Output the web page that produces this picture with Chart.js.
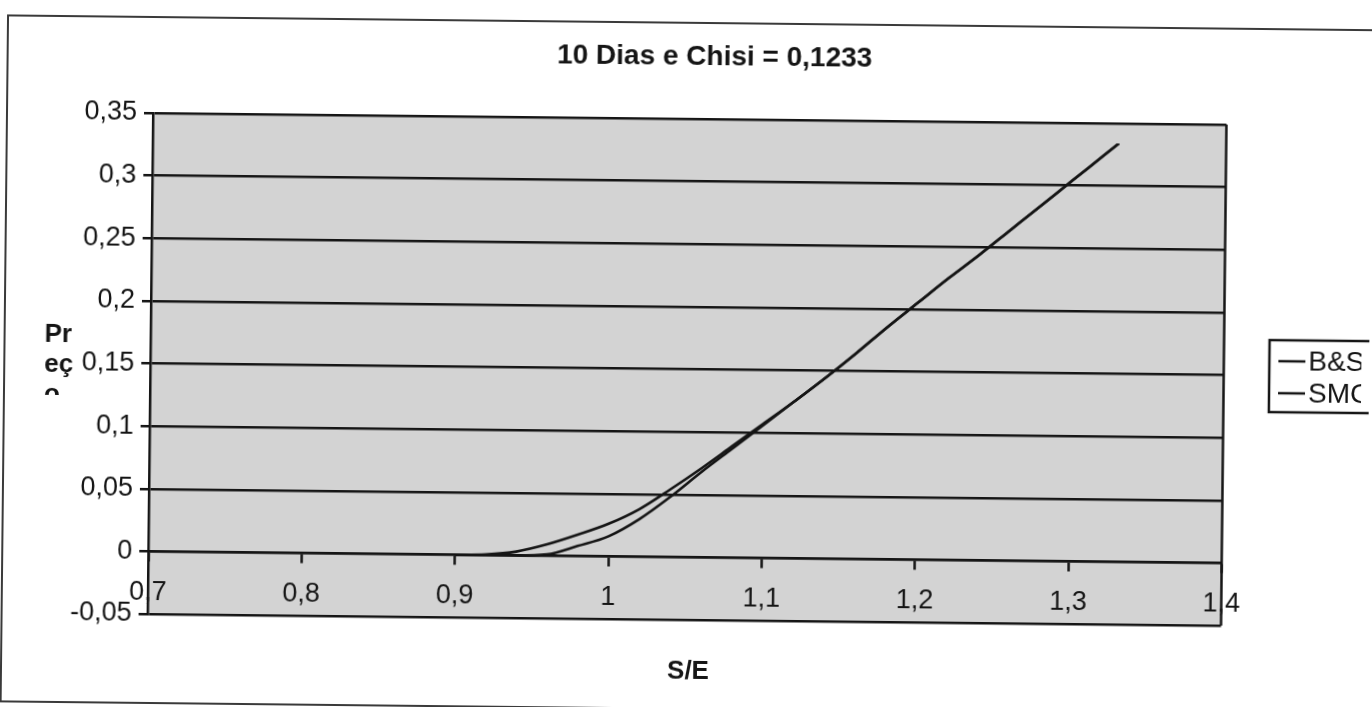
<!DOCTYPE html>
<html>
<head>
<meta charset="utf-8">
<script src="https://cdn.jsdelivr.net/npm/chart.js@4.4.1/dist/chart.umd.min.js"></script>
<style>
  html, body { margin: 0; padding: 0; background: #fff; overflow: hidden; }
  /* the scanned page is slightly turned clockwise */
  #myChart { display: block; transform: rotate(0.62deg); transform-origin: 153px 113px; }
</style>
</head>
<body>
<canvas id="myChart" width="1372" height="707"></canvas>
<script>
const ratio = [0.90, 0.92, 0.94, 0.96, 0.98, 1.00, 1.02, 1.04, 1.06, 1.08, 1.10, 1.12,
  1.14, 1.16, 1.18, 1.20, 1.22, 1.24, 1.26, 1.28, 1.30, 1.32, 1.33];
const bsPrice = [0, 0.0005, 0.003, 0.009, 0.017, 0.026, 0.038, 0.054, 0.071, 0.089, 0.107, 0.125,
  0.144, 0.164, 0.185, 0.205, 0.225, 0.244, 0.264, 0.284, 0.304, 0.324, 0.334];
const smcPrice = [0, 0, 0, 0.001, 0.008, 0.016, 0.030, 0.048, 0.068, 0.087, 0.106, 0.125,
  0.144, 0.164, 0.185, 0.205, 0.225, 0.244, 0.264, 0.284, 0.304, 0.324, 0.334];
const seriesNames = ["B&S", "SMC"];
const titleText = "10 Dias e Chisi = 0,1233";
const xTitle = "S/E";
const yTitle = ["Pr", "eç", "o"];

const FONT = '"Liberation Sans", Arial, sans-serif';
const INK = "#151515";

function comma(v) {
  return (Math.round(v * 100) / 100).toString().replace(".", ",");
}

// background, frame, titles and legend drawn around the chart area
const decor = {
  id: "decor",
  beforeDraw(chart) {
    const { ctx, chartArea: a } = chart;
    ctx.save();
    ctx.fillStyle = "#d3d3d3";
    ctx.fillRect(a.left, a.top, a.right - a.left, a.bottom - a.top);
    ctx.restore();
  },
  afterDraw(chart) {
    const { ctx, chartArea: a } = chart;
    ctx.save();
    ctx.strokeStyle = INK;
    ctx.lineWidth = 2.5;
    ctx.beginPath();
    ctx.moveTo(a.right, a.top);
    ctx.lineTo(a.right, a.bottom);
    ctx.stroke();

    // outer chart frame (runs off the right side)
    ctx.lineWidth = 2;
    ctx.strokeStyle = "#3a3a3a";
    ctx.strokeRect(7, 17, 1500, 686);

    ctx.fillStyle = INK;
    ctx.textAlign = "center";
    ctx.textBaseline = "middle";
    ctx.font = "bold 28px " + FONT;
    ctx.fillText(titleText, 714, 51);
    ctx.font = "bold 26px " + FONT;
    ctx.fillText(xTitle, 694, 666);

    // wrapped axis title, last line cut off
    ctx.save();
    ctx.beginPath();
    ctx.rect(30, 300, 50, 96);
    ctx.clip();
    ctx.textAlign = "left";
    yTitle.forEach((t, i) => ctx.fillText(t, 47, 336 + i * 30));
    ctx.restore();

    // legend box, clipped by the page edge
    ctx.lineWidth = 2.5;
    ctx.strokeStyle = INK;
    ctx.strokeRect(1272, 328, 200, 72);
    ctx.beginPath();
    ctx.rect(1260, 320, 104, 90);
    ctx.clip();
    ctx.font = "28px " + FONT;
    ctx.textAlign = "left";
    seriesNames.forEach((name, i) => {
      const y = 349 + i * 32;
      ctx.beginPath();
      ctx.moveTo(1281, y);
      ctx.lineTo(1308, y);
      ctx.stroke();
      ctx.fillText(name, 1311, y + 1);
    });
    ctx.restore();
  },
};

const ctx = document.getElementById("myChart");
const myChart = new Chart(ctx, {
  type: "scatter",
  data: {
    datasets: [
      {
        label: seriesNames[0],
        data: ratio.map((x, i) => ({ x: x, y: bsPrice[i] })),
      },
      {
        label: seriesNames[1],
        data: ratio.map((x, i) => ({ x: x, y: smcPrice[i] })),
      },
    ],
  },
  options: {
    responsive: false,
    animation: false,
    layout: { padding: { top: 113, right: 145.5, bottom: 93, left: 0 } },
    elements: {
      point: { radius: 0 },
      line: { borderColor: INK, borderWidth: 2.6, cubicInterpolationMode: "monotone" },
    },
    datasets: { scatter: { showLine: true } },
    plugins: {
      legend: { display: false },
      title: { display: false },
      tooltip: { enabled: false },
    },
    scales: {
      x: {
        type: "linear",
        min: 0.7,
        max: 1.4,
        position: { y: 0 },
        ticks: {
          stepSize: 0.1,
          color: INK,
          font: { family: FONT, size: 27 },
          padding: 16,
          maxRotation: 0,
          callback: (v) => comma(v),
        },
        grid: { drawOnChartArea: false, tickLength: 9, tickColor: INK, tickWidth: 2.5 },
        border: { color: INK, width: 2.5 },
      },
      y: {
        min: -0.05,
        max: 0.35,
        ticks: {
          stepSize: 0.05,
          color: INK,
          font: { family: FONT, size: 27 },
          padding: 7,
          callback: (v) => comma(v),
        },
        grid: { color: INK, lineWidth: 2.5, tickLength: 9 },
        border: { color: INK, width: 2.5 },
        afterFit: (s) => { s.width = 153; },
      },
    },
  },
  plugins: [decor],
});
</script>
</body>
</html>
